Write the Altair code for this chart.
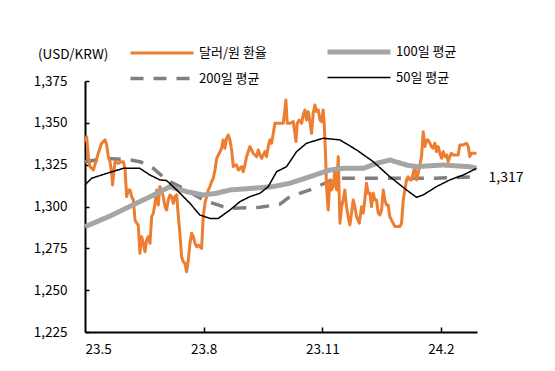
import altair as alt
import pandas as pd

FONT = "Noto Sans CJK KR"

series_names = ["달러/원 환율", "100일 평균", "200일 평균", "50일 평균"]
series_colors = ["#ED7D31", "#A5A5A5", "#7F7F7F", "#000000"]
series_widths = [3, 5, 3.5, 1.5]
series_dashes = [[1, 0], [1, 0], [13, 10], [1, 0]]

# (days since 2023-05-01, KRW per USD)
fx_points = [
    (0, 1338.8), (1.3, 1341.7), (2.6, 1329.8), (3.9, 1323.8), (6.5, 1321.8), (10.3, 1331.8),
    (12.9, 1337.8), (15.5, 1339.8), (16.8, 1336.8), (18.1, 1329.8), (19.4, 1326.8), (20.7, 1319.8),
    (21.4, 1312.9), (22.5, 1321.8), (23.3, 1326.8), (25.8, 1325.8), (28.4, 1326.8), (29.7, 1326.8),
    (31.0, 1322.8), (32.3, 1305.9), (33.6, 1309.9), (34.9, 1309.9), (36.2, 1305.9), (37.5, 1303.9),
    (38.8, 1291.9), (40.1, 1290.0), (41.3, 1289.0), (42.6, 1272.0), (43.9, 1282.0), (45.2, 1278.0),
    (46.5, 1273.0), (47.8, 1280.0), (49.1, 1282.0), (50.4, 1278.0), (51.7, 1293.9), (53.0, 1296.0),
    (54.3, 1301.9), (55.6, 1309.9), (56.8, 1300.9), (58.1, 1311.9), (59.4, 1309.9), (60.7, 1305.9),
    (62.0, 1299.9), (63.3, 1297.9), (64.6, 1303.9), (65.9, 1306.9), (67.2, 1305.9), (68.5, 1301.9),
    (69.8, 1305.9), (71.1, 1306.9), (72.4, 1293.9), (73.6, 1284.0), (74.9, 1270.0), (76.2, 1267.0),
    (77.5, 1266.0), (78.8, 1261.0), (80.1, 1268.0), (81.4, 1278.0), (82.7, 1284.0), (84.0, 1282.0),
    (85.3, 1278.0), (86.6, 1276.0), (87.9, 1277.0), (89.1, 1276.0), (90.4, 1275.0), (91.7, 1293.9),
    (93.0, 1301.9), (94.3, 1305.9), (95.6, 1309.9), (96.9, 1311.9), (98.2, 1314.9), (99.5, 1316.9),
    (100.8, 1321.8), (102.1, 1328.8), (103.4, 1330.8), (104.7, 1332.8), (105.9, 1334.8), (107.2, 1339.8),
    (108.5, 1334.8), (109.8, 1340.8), (111.1, 1342.7), (112.4, 1339.8), (113.7, 1333.8), (115.0, 1323.8),
    (116.3, 1324.8), (117.6, 1324.8), (118.9, 1321.8), (120.2, 1322.8), (121.4, 1323.8), (122.7, 1320.8),
    (124.0, 1324.8), (125.3, 1329.8), (126.6, 1332.8), (127.9, 1335.8), (129.2, 1333.8), (130.5, 1331.8),
    (131.8, 1330.8), (133.1, 1329.8), (134.4, 1333.8), (135.7, 1330.8), (137.0, 1328.8), (138.2, 1330.8),
    (139.5, 1332.8), (140.8, 1329.8), (142.1, 1335.8), (143.4, 1339.8), (144.7, 1337.8), (146.0, 1343.7),
    (147.3, 1349.7), (149.9, 1349.7), (153.7, 1349.7), (155.0, 1357.7), (155.8, 1363.7), (156.8, 1349.7),
    (158.9, 1349.7), (161.5, 1350.7), (162.8, 1343.7), (163.6, 1338.8), (164.6, 1349.7), (166.1, 1351.7),
    (168.0, 1349.7), (169.2, 1354.7), (170.5, 1357.7), (171.8, 1351.7), (173.1, 1356.7), (174.4, 1350.7),
    (175.7, 1343.7), (177.0, 1355.7), (178.3, 1360.7), (179.6, 1356.7), (180.9, 1357.7), (182.2, 1351.7),
    (183.5, 1350.7), (184.7, 1357.7), (185.5, 1349.7), (186.6, 1329.8), (187.3, 1311.9), (188.6, 1297.9),
    (189.9, 1315.9), (191.2, 1309.9), (192.5, 1311.9), (193.8, 1321.8), (195.1, 1309.9), (196.4, 1329.8),
    (197.7, 1290.0), (199.0, 1299.9), (200.2, 1303.9), (201.5, 1309.9), (202.8, 1299.9), (204.1, 1293.9),
    (205.4, 1289.0), (206.7, 1296.0), (208.0, 1303.9), (209.3, 1299.9), (210.6, 1293.9), (212.7, 1290.0),
    (214.5, 1299.9), (215.8, 1296.0), (217.0, 1303.9), (218.3, 1313.9), (219.6, 1307.9), (220.9, 1307.9),
    (222.2, 1299.9), (223.5, 1307.9), (224.8, 1303.9), (226.1, 1303.9), (227.4, 1296.0), (228.7, 1295.0),
    (230.0, 1297.9), (231.3, 1309.9), (232.5, 1303.9), (233.8, 1300.9), (235.1, 1300.9), (236.4, 1293.9),
    (237.7, 1291.9), (239.0, 1290.0), (240.3, 1288.0), (244.2, 1288.0), (245.5, 1290.0), (246.8, 1303.9),
    (248.1, 1309.9), (249.3, 1315.9), (250.6, 1317.8), (251.9, 1315.9), (253.2, 1315.9), (254.5, 1319.8),
    (255.8, 1323.8), (257.1, 1315.9), (258.4, 1319.8), (259.7, 1324.8), (261.0, 1329.8), (261.7, 1337.8),
    (262.3, 1344.7), (263.6, 1335.8), (264.9, 1339.8), (266.1, 1339.8), (267.4, 1337.8), (268.7, 1335.8),
    (270.0, 1334.8), (271.3, 1337.8), (272.6, 1332.8), (273.9, 1335.8), (275.2, 1331.8), (276.5, 1328.8),
    (277.8, 1332.8), (279.1, 1329.8), (280.4, 1330.8), (281.6, 1326.8), (282.9, 1329.8), (284.2, 1331.8),
    (285.5, 1330.8), (288.1, 1330.8), (289.4, 1330.8), (290.7, 1336.8), (293.3, 1336.8), (295.9, 1337.8),
    (297.2, 1335.8), (298.4, 1329.8), (299.7, 1331.8), (302.3, 1331.8), (303.6, 1331.8),
]

ma100_points = [
    (0, 1287.9), (20, 1294.5), (40, 1302.0), (55, 1307.5), (65.9, 1311.9), (69.8, 1310.9),
    (78.8, 1308.9), (91.7, 1306.9), (102.1, 1307.9), (112.4, 1309.9), (130.5, 1310.9), (146.0, 1311.9),
    (158.9, 1313.9), (174.4, 1317.8), (189.9, 1321.8), (200.2, 1322.8), (215.8, 1322.8), (226.1, 1325.8),
    (236.4, 1327.8), (249.3, 1324.8), (257.1, 1323.8), (277.8, 1324.8), (298.4, 1323.8), (303.6, 1322.8),
]

ma200_points = [
    (0, 1326.8), (16.8, 1328.8), (34.9, 1327.8), (42.6, 1326.8), (53.0, 1322.8), (63.3, 1315.9),
    (76.2, 1310.9), (91.7, 1303.9), (107.2, 1299.9), (115.0, 1298.9), (135.7, 1299.5), (151.2, 1301.4),
    (158.9, 1305.9), (174.4, 1309.9), (186.0, 1313.9), (195.1, 1316.9), (220.9, 1316.9), (246.8, 1316.9),
    (272.6, 1316.9), (303.6, 1317.8),
]

ma50_points = [
    (0, 1312.9), (5.2, 1316.9), (16.8, 1319.8), (29.7, 1322.8), (42.6, 1322.8), (50.4, 1318.8),
    (58.1, 1315.9), (63.3, 1315.5), (71.1, 1309.9), (81.4, 1301.9), (89.1, 1294.9), (96.9, 1292.9),
    (103.4, 1292.9), (112.4, 1297.9), (120.2, 1302.9), (127.9, 1305.9), (135.7, 1307.9), (142.1, 1311.9),
    (148.6, 1320.8), (156.3, 1323.8), (164.1, 1332.8), (171.8, 1337.8), (184.7, 1340.8), (197.7, 1339.8),
    (210.6, 1333.8), (223.5, 1326.8), (236.4, 1317.8), (249.3, 1309.9), (257.1, 1305.5), (262.3, 1306.9),
    (272.6, 1311.9), (282.9, 1315.9), (293.3, 1318.8), (303.6, 1322.8),
]

x_tick_days = [0, 92, 184, 276]
x_tick_labels = ["23.5", "23.8", "23.11", "24.2"]
x_domain = [0, 304]
y_ticks = [1225, 1250, 1275, 1300, 1325, 1350, 1375]
last_label_value = 1317
unit_label = "(USD/KRW)"

rows = []
for name, pts in zip(series_names, [fx_points, ma100_points, ma200_points, ma50_points]):
    for d, v in pts:
        rows.append({"day": d, "value": v, "series": name})
df = pd.DataFrame(rows)

W, H = 392, 251

label_expr = " : ".join(
    f"datum.value == {d} ? '{t}'" for d, t in zip(x_tick_days, x_tick_labels)
) + " : ''"

xscale = alt.Scale(domain=x_domain, nice=False, zero=False)
yscale = alt.Scale(domain=[y_ticks[0], y_ticks[-1]], nice=False, zero=False)

# long horizontal stroke symbol (path is scaled by sqrt(symbolSize)/2)
legend = alt.Legend(
    title=None, orient="none", legendX=64, legendY=-42, columns=2, direction="horizontal",
    symbolType="M-3,0H3", symbolSize=441, labelFont=FONT, labelFontSize=13, labelColor="#000000",
    labelOffset=24, columnPadding=50, rowPadding=4, padding=0, labelLimit=200,
)

enc_common = dict(
    color=alt.Color("series:N", scale=alt.Scale(domain=series_names, range=series_colors), legend=legend),
    strokeDash=alt.StrokeDash("series:N", scale=alt.Scale(domain=series_names, range=series_dashes), legend=legend),
    strokeWidth=alt.StrokeWidth("series:N", scale=alt.Scale(type="ordinal", domain=series_names, range=series_widths), legend=legend),
)

x_main_axis = alt.Axis(
    values=x_tick_days, labelExpr=label_expr, ticks=False, domainColor="#000000", domainWidth=2,
    labelFont=FONT, labelFontSize=13.5, labelColor="#000000", labelPadding=10, grid=False, title=None,
)
x_tick_axis = alt.Axis(
    orient="top", offset=-H, values=x_tick_days[1:], labels=False, domain=False, ticks=True,
    tickSize=5, tickColor="#000000", tickWidth=1.5, grid=False, title=None,
)
y_main_axis = alt.Axis(
    values=y_ticks, format=",.0f", ticks=False, domainColor="#000000", domainWidth=2,
    labelFont=FONT, labelFontSize=13.5, labelColor="#000000", labelPadding=18, grid=False, title=None,
)
y_tick_axis = alt.Axis(
    orient="right", offset=-W, values=y_ticks, labels=False, domain=False, ticks=True,
    tickSize=4, tickColor="#000000", tickWidth=1.5, grid=False, title=None,
)

def line_layer(name, xaxis, yaxis):
    return alt.Chart(df).transform_filter(alt.datum.series == name).mark_line(
        interpolate="linear", strokeCap="butt", strokeJoin="round"
    ).encode(
        x=alt.X("day:Q", scale=xscale, axis=xaxis),
        y=alt.Y("value:Q", scale=yscale, axis=yaxis),
        **enc_common,
    )

l200 = line_layer(series_names[2], x_tick_axis, y_tick_axis)
lfx = line_layer(series_names[0], x_main_axis, y_main_axis)
l100 = line_layer(series_names[1], None, None)
l50 = line_layer(series_names[3], None, None)

ann_df = pd.DataFrame({"day": [fx_points[-1][0]], "value": [last_label_value],
                       "label": [f"{last_label_value:,}"]})
ann = alt.Chart(ann_df).mark_text(
    align="left", baseline="middle", dx=12, font=FONT, fontSize=14, color="#000000"
).encode(
    x=alt.X("day:Q", scale=xscale, axis=None),
    y=alt.Y("value:Q", scale=yscale, axis=None),
    text="label:N",
)

unit_df = pd.DataFrame({"t": [unit_label]})
unit = alt.Chart(unit_df).mark_text(
    align="left", baseline="middle", font=FONT, fontSize=13.5, color="#000000"
).encode(x=alt.value(-47), y=alt.value(-26), text="t:N")

chart = alt.layer(l200, lfx, l100, l50, ann, unit).resolve_axis(
    x="independent", y="independent"
).properties(
    width=W, height=H,
    autosize=alt.AutoSizeParams(type="none"),
    padding={"left": 77, "top": 73, "right": 70, "bottom": 30},
    background="white",
).configure_view(stroke=None)

chart.save("out.html", embed_options={"renderer": "svg", "actions": False})
